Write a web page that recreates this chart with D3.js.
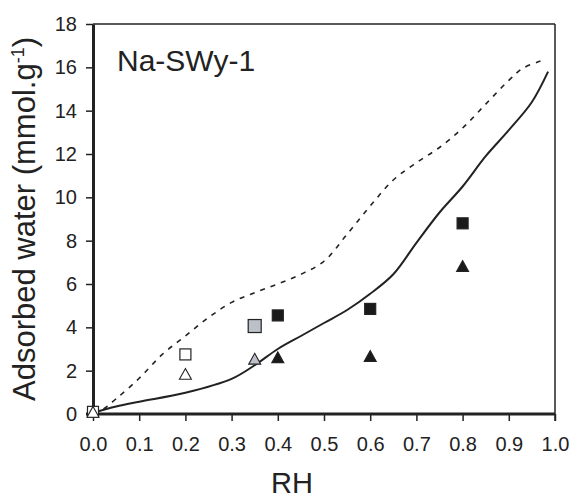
<!DOCTYPE html>
<html><head><meta charset="utf-8">
<script src="https://cdn.jsdelivr.net/npm/d3@7"></script>
<style>body{margin:0;background:#fff;} text{font-family:"Liberation Sans",Arial,sans-serif;fill:#222;}</style>
</head><body>
<svg id="c" width="573" height="500"></svg>
<script>
// Data
const xTicks = [0,0.1,0.2,0.3,0.4,0.5,0.6,0.7,0.8,0.9,1.0];
const yTicks = [0,2,4,6,8,10,12,14,16,18];
const solidRH = [0,0.05,0.1,0.2,0.3,0.35,0.4,0.45,0.5,0.55,0.6,0.65,0.7,0.75,0.8,0.85,0.9,0.95,0.985];
const solidW  = [0.05,0.35,0.57,0.98,1.62,2.25,3.0,3.6,4.2,4.8,5.55,6.45,7.9,9.3,10.5,11.9,13.1,14.4,15.8];
const dashRH = [0,0.02,0.05,0.1,0.15,0.2,0.25,0.3,0.35,0.4,0.45,0.5,0.55,0.6,0.65,0.7,0.75,0.8,0.85,0.9,0.93,0.97];
const dashW  = [0.1,0.2,0.7,1.65,2.75,3.6,4.45,5.15,5.6,6.0,6.45,7.05,8.3,9.6,10.8,11.6,12.3,13.2,14.3,15.4,15.95,16.3];
// markers: [RH, value]
const openSquares = [[0,0.1],[0.2,2.75]];
const openTriangles = [[0,0.1],[0.2,1.85]];
const graySquares = [[0.35,4.06]];
const grayTriangles = [[0.35,2.55]];
const blackSquares = [[0.4,4.55],[0.6,4.85],[0.8,8.8]];
const blackTriangles = [[0.4,2.62],[0.6,2.68],[0.8,6.83]];

const svg = d3.select("#c");
const x = d3.scaleLinear().domain([0,1]).range([93,555]);
const y = d3.scaleLinear().domain([0,18]).range([414,24]);
const ink = "#222";

// frame top/right
svg.append("line").attr("x1",x(0)).attr("x2",x(1)).attr("y1",y(18)).attr("y2",y(18)).attr("stroke",ink).attr("stroke-width",1.5);
svg.append("line").attr("x1",x(1)).attr("x2",x(1)).attr("y1",y(18)).attr("y2",y(0)+7).attr("stroke",ink).attr("stroke-width",1.5);

// axes
const gx = svg.append("g").attr("transform",`translate(0,${y(0)})`)
  .call(d3.axisBottom(x).tickValues(xTicks).tickFormat(d3.format(".1f")).tickSize(7).tickSizeOuter(0).tickPadding(16));
gx.select(".domain").remove();
gx.append("line").attr("x1",x(0)-7).attr("x2",x(1)).attr("y1",0).attr("y2",0).attr("stroke",ink).attr("stroke-width",3);
gx.selectAll(".tick line").attr("stroke",ink).attr("stroke-width",1.5);
gx.selectAll(".tick text").attr("font-size",20).attr("fill",ink);

const gy = svg.append("g").attr("transform",`translate(${x(0)},0)`)
  .call(d3.axisLeft(y).tickValues(yTicks).tickSize(7).tickSizeOuter(0).tickPadding(9));
gy.select(".domain").attr("stroke",ink).attr("stroke-width",3);
gy.selectAll(".tick line").attr("stroke",ink).attr("stroke-width",1.5);
gy.selectAll(".tick text").attr("font-size",20).attr("fill",ink);

// curves
const line = d3.line().x(d=>x(d[0])).y(d=>y(d[1])).curve(d3.curveCatmullRom.alpha(0.5));
svg.append("path").datum(dashRH.map((r,i)=>[r,dashW[i]])).attr("d",line)
  .attr("fill","none").attr("stroke",ink).attr("stroke-width",1.6).attr("stroke-dasharray","5,6");
svg.append("path").datum(solidRH.map((r,i)=>[r,solidW[i]])).attr("d",line)
  .attr("fill","none").attr("stroke",ink).attr("stroke-width",2);

// markers
function squares(data, size, fill){
  svg.append("g").selectAll("rect").data(data).join("rect")
    .attr("x",d=>x(d[0])-size/2).attr("y",d=>y(d[1])-size/2)
    .attr("width",size).attr("height",size)
    .attr("fill",fill).attr("stroke",ink).attr("stroke-width",1.2);
}
function triangles(data, size, fill){
  const h = size*0.9;
  svg.append("g").selectAll("path").data(data).join("path")
    .attr("d",d=>{const cx=x(d[0]), cy=y(d[1]);
      return `M${cx},${cy-h/2}L${cx+size/2},${cy+h/2}L${cx-size/2},${cy+h/2}Z`;})
    .attr("fill",fill).attr("stroke",ink).attr("stroke-width",1.1);
}
squares(openSquares,11,"#fff");
squares(graySquares,13,"#bcc0c8");
squares(blackSquares,11,"#1a1a1a");
triangles(openTriangles,12,"#fff");
triangles(grayTriangles,12,"#bcc0c8");
triangles(blackTriangles,12,"#1a1a1a");

// texts
svg.append("text").attr("x",117).attr("y",71).attr("font-size",30).text("Na-SWy-1");
svg.append("text").attr("x",292).attr("y",493).attr("text-anchor","middle").attr("font-size",29).text("RH");
const yl = svg.append("text").attr("transform","translate(35,219) rotate(-90)").attr("text-anchor","middle").attr("font-size",31);
yl.append("tspan").text("Adsorbed water (mmol.g");
yl.append("tspan").attr("font-size",18).attr("dy",-11).text("-1");
yl.append("tspan").attr("dy",11).text(")");
</script>
</body></html>
